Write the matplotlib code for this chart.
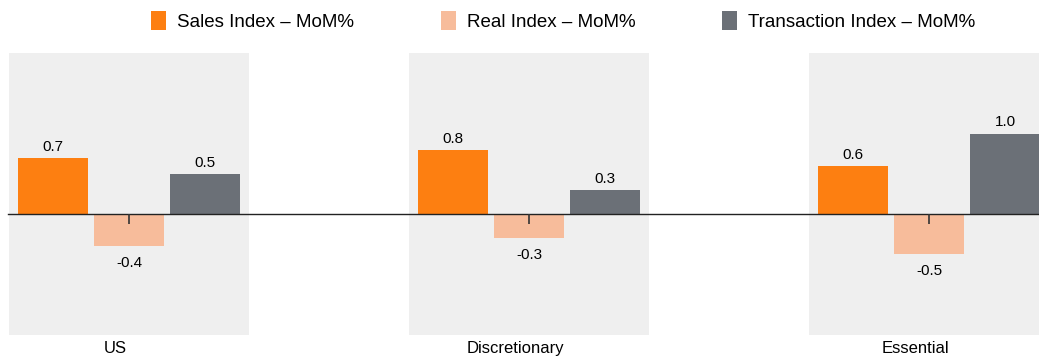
import matplotlib.pyplot as plt
import numpy as np
from matplotlib.patches import Patch

plt.rcParams['font.family'] = ['Liberation Sans', 'DejaVu Sans']

# month-on-month change by segment
categories = ["US", "Discretionary", "Essential"]
series_names = ["Sales Index – MoM%", "Real Index – MoM%", "Transaction Index – MoM%"]
sales_mom = [0.7, 0.8, 0.6]
real_mom = [-0.4, -0.3, -0.5]
transaction_mom = [0.5, 0.3, 1.0]

colors = ["#FD7F11", "#F7BC9B", "#6B7077"]
band_color = "#EFEFEF"

fig = plt.figure(figsize=(10.39, 3.56), dpi=100)
ax = fig.add_axes([8 / 1039, 1 - 335 / 356, 1031 / 1039, 282 / 356])

x = np.arange(len(categories))
width = 0.175
step = 0.19

# grey panel behind each group
for xi in x:
    ax.axvspan(xi - 0.3, xi + 0.3, color=band_color, zorder=0, lw=0)

for i, vals in enumerate([sales_mom, real_mom, transaction_mom]):
    pos = x + (i - 1) * step
    bars = ax.bar(pos, vals, width=width, color=colors[i], zorder=2, label=series_names[i])
    for b, v in zip(bars, vals):
        if v >= 0:
            ax.annotate(f"{v:.1f}", (b.get_x() + b.get_width() / 2, v), xytext=(0, 3),
                        textcoords="offset points", ha="center", va="bottom", fontsize=11)
        else:
            ax.annotate(f"{v:.1f}", (b.get_x() + b.get_width() / 2, v), xytext=(0, -7),
                        textcoords="offset points", ha="center", va="top", fontsize=11)

ax.set_xlim(-0.3025, 2.275)
ax.set_ylim(-1.5, 2.0)

# zero line acts as the x axis
for s in ["top", "right", "left"]:
    ax.spines[s].set_visible(False)
ax.spines["bottom"].set_position(("data", 0))
ax.spines["bottom"].set_color("#222222")
ax.spines["bottom"].set_linewidth(1.0)
ax.spines["bottom"].set_zorder(3)
ax.xaxis.set_zorder(3)
ax.set_yticks([])
ax.set_xticks(x)
ax.set_xticklabels([])
ax.tick_params(axis="x", direction="out", length=7, width=1.2, color="#333333")

for xi, name in zip(x, categories):
    ax.text(xi - 0.035, -0.02, name, transform=ax.get_xaxis_transform(), ha="center",
            va="top", fontsize=12)

handles = [Patch(facecolor=c, edgecolor="none") for c in colors]
fig.legend(handles, series_names, loc="center", bbox_to_anchor=(0.542, 0.941), ncol=3,
           frameon=False, fontsize=13.5, handlelength=0.8, handleheight=1.2,
           handletextpad=0.6, columnspacing=4.6)

fig.savefig("out.png", dpi=100)
